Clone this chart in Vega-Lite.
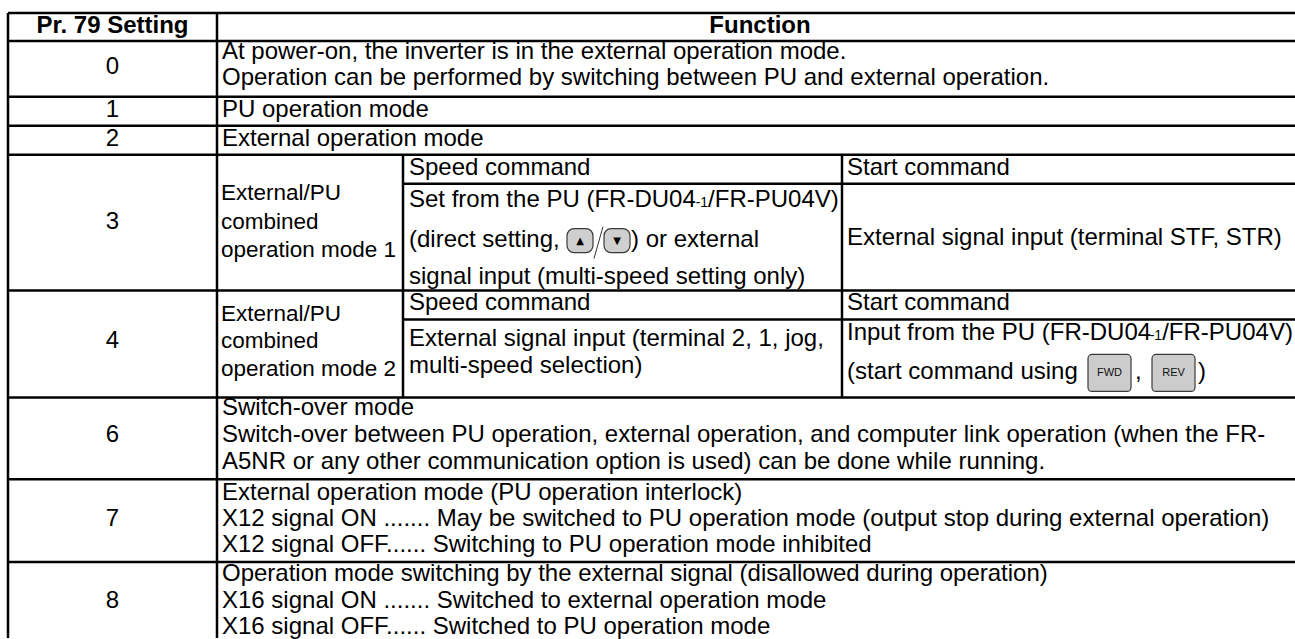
{
  "$schema": "https://vega.github.io/schema/vega-lite/v6.json",
  "width": 1295,
  "height": 639,
  "autosize": {"type": "fit", "contains": "padding"},
  "padding": 0,
  "background": "#ffffff",
  "config": {"view": {"stroke": null}},
  "datasets": {
    "hlines": [
      {"line": 0, "from": 8, "to": 1295},
      {"line": 1.018, "from": 8, "to": 1295},
      {"line": 3.055, "from": 8, "to": 1295},
      {"line": 4.109, "from": 8, "to": 1295},
      {"line": 5.164, "from": 8, "to": 1295},
      {"line": 6.218, "from": 403, "to": 1295},
      {"line": 10.109, "from": 8, "to": 1295},
      {"line": 11.164, "from": 403, "to": 1295},
      {"line": 14.0, "from": 8, "to": 1295},
      {"line": 16.982, "from": 8, "to": 1295},
      {"line": 20.0, "from": 8, "to": 1295}
    ],
    "vlines": [
      {"at": 8, "top": 0, "bottom": 22.76},
      {"at": 217, "top": 0, "bottom": 22.76},
      {"at": 403, "top": 5.164, "bottom": 14.0},
      {"at": 842, "top": 5.164, "bottom": 14.0}
    ],
    "slash": [
      {"fromAt": 594, "toAt": 603, "fromLine": 8.945, "toLine": 7.782}
    ],
    "buttons": [
      {"label": "▲", "kind": "arrow", "left": 567, "right": 593, "top": 7.855, "bottom": 8.727},
      {"label": "▼", "kind": "arrow", "left": 604, "right": 630, "top": 7.855, "bottom": 8.727},
      {"label": "FWD", "kind": "key", "left": 1088, "right": 1131, "top": 12.436, "bottom": 13.782},
      {"label": "REV", "kind": "key", "left": 1152, "right": 1195, "top": 12.436, "bottom": 13.782}
    ],
    "texts": [
      {"text": "Pr. 79 Setting", "at": 112.5, "line": 0.47, "style": "head"},
      {"text": "Function", "at": 760, "line": 0.47, "style": "head"},
      {"text": "0", "at": 112.5, "line": 1.96, "style": "num"},
      {"text": "1", "at": 112.5, "line": 3.53, "style": "num"},
      {"text": "2", "at": 112.5, "line": 4.58, "style": "num"},
      {"text": "3", "at": 112.5, "line": 7.6, "style": "num"},
      {"text": "4", "at": 112.5, "line": 11.96, "style": "num"},
      {"text": "6", "at": 112.5, "line": 15.38, "style": "num"},
      {"text": "7", "at": 112.5, "line": 18.44, "style": "num"},
      {"text": "8", "at": 112.5, "line": 21.42, "style": "num"},
      {"text": "At power-on, the inverter is in the external operation mode.", "at": 222, "line": 1.42, "style": "body"},
      {"text": "Operation can be performed by switching between PU and external operation.", "at": 222, "line": 2.36, "style": "body"},
      {"text": "PU operation mode", "at": 222, "line": 3.53, "style": "body"},
      {"text": "External operation mode", "at": 222, "line": 4.58, "style": "body"},
      {"text": "External/PU", "at": 221, "line": 6.55, "style": "mode"},
      {"text": "combined", "at": 221, "line": 7.6, "style": "mode"},
      {"text": "operation mode 1", "at": 221, "line": 8.62, "style": "mode"},
      {"text": "Speed command", "at": 409, "line": 5.64, "style": "body"},
      {"text": "Set from the PU (FR-DU04", "at": 409, "line": 6.8, "style": "body"},
      {"text": "-1", "at": 695.7, "line": 6.8, "style": "sub"},
      {"text": "/FR-PU04V)", "at": 708.1, "line": 6.8, "style": "body"},
      {"text": "(direct setting,", "at": 409, "line": 8.255, "style": "body"},
      {"text": ") or external", "at": 631, "line": 8.255, "style": "body"},
      {"text": "signal input (multi-speed setting only)", "at": 409, "line": 9.6, "style": "body"},
      {"text": "Start command", "at": 847, "line": 5.64, "style": "body"},
      {"text": "External signal input (terminal STF, STR)", "at": 847, "line": 8.18, "style": "body"},
      {"text": "External/PU", "at": 221, "line": 10.98, "style": "mode"},
      {"text": "combined", "at": 221, "line": 11.96, "style": "mode"},
      {"text": "operation mode 2", "at": 221, "line": 12.95, "style": "mode"},
      {"text": "Speed command", "at": 409, "line": 10.55, "style": "body"},
      {"text": "External signal input (terminal 2, 1, jog,", "at": 409, "line": 11.89, "style": "body"},
      {"text": "multi-speed selection)", "at": 409, "line": 12.87, "style": "body"},
      {"text": "Start command", "at": 847, "line": 10.55, "style": "body"},
      {"text": "Input from the PU (FR-DU04", "at": 847, "line": 11.64, "style": "body"},
      {"text": "-1", "at": 1149.7, "line": 11.64, "style": "sub"},
      {"text": "/FR-PU04V)", "at": 1162.2, "line": 11.64, "style": "body"},
      {"text": "(start command using", "at": 847, "line": 13.09, "style": "body"},
      {"text": ",", "at": 1135, "line": 13.09, "style": "body"},
      {"text": ")", "at": 1198, "line": 13.09, "style": "body"},
      {"text": "Switch-over mode", "at": 222, "line": 14.4, "style": "body"},
      {"text": "Switch-over between PU operation, external operation, and computer link operation (when the FR-", "at": 222, "line": 15.38, "style": "body"},
      {"text": "A5NR or any other communication option is used) can be done while running.", "at": 222, "line": 16.36, "style": "body"},
      {"text": "External operation mode (PU operation interlock)", "at": 222, "line": 17.49, "style": "body"},
      {"text": "X12 signal ON ....... May be switched to PU operation mode (output stop during external operation)", "at": 222, "line": 18.44, "style": "body"},
      {"text": "X12 signal OFF...... Switching to PU operation mode inhibited", "at": 222, "line": 19.38, "style": "body"},
      {"text": "Operation mode switching by the external signal (disallowed during operation)", "at": 222, "line": 20.44, "style": "body"},
      {"text": "X16 signal ON ....... Switched to external operation mode", "at": 222, "line": 21.42, "style": "body"},
      {"text": "X16 signal OFF...... Switched to PU operation mode", "at": 222, "line": 22.36, "style": "body"}
    ]
  },
  "layer": [
    {
      "data": {"name": "hlines"},
      "mark": {"type": "rule", "color": "#000000", "strokeWidth": 2.5, "clip": true},
      "encoding": {
        "x": {"field": "from", "type": "quantitative", "scale": {"domain": [0, 1295], "nice": false, "zero": false}, "axis": null},
        "x2": {"field": "to"},
        "y": {"field": "line", "type": "quantitative", "scale": {"domain": [-0.47273, 22.76364], "reverse": true, "nice": false, "zero": false}, "axis": null}
      }
    },
    {
      "data": {"name": "vlines"},
      "mark": {"type": "rule", "color": "#000000", "strokeWidth": 2.5, "clip": true},
      "encoding": {
        "x": {"field": "at", "type": "quantitative", "scale": {"domain": [0, 1295], "nice": false, "zero": false}, "axis": null},
        "y": {"field": "top", "type": "quantitative", "scale": {"domain": [-0.47273, 22.76364], "reverse": true, "nice": false, "zero": false}, "axis": null},
        "y2": {"field": "bottom"}
      }
    },
    {
      "data": {"name": "buttons"},
      "transform": [{"filter": "datum.kind === 'arrow'"}],
      "mark": {"type": "rect", "fill": "#cfcfcf", "stroke": "#3a3a3a", "strokeWidth": 1.2, "cornerRadius": 7},
      "encoding": {
        "x": {"field": "left", "type": "quantitative", "scale": {"domain": [0, 1295], "nice": false, "zero": false}, "axis": null},
        "x2": {"field": "right"},
        "y": {"field": "top", "type": "quantitative", "scale": {"domain": [-0.47273, 22.76364], "reverse": true, "nice": false, "zero": false}, "axis": null},
        "y2": {"field": "bottom"}
      }
    },
    {
      "data": {"name": "buttons"},
      "transform": [{"filter": "datum.kind === 'key'"}],
      "mark": {"type": "rect", "fill": "#cccccc", "stroke": "#3a3a3a", "strokeWidth": 1.2, "cornerRadius": 4},
      "encoding": {
        "x": {"field": "left", "type": "quantitative", "scale": {"domain": [0, 1295], "nice": false, "zero": false}, "axis": null},
        "x2": {"field": "right"},
        "y": {"field": "top", "type": "quantitative", "scale": {"domain": [-0.47273, 22.76364], "reverse": true, "nice": false, "zero": false}, "axis": null},
        "y2": {"field": "bottom"}
      }
    },
    {
      "data": {"name": "buttons"},
      "transform": [{"filter": "datum.kind === 'arrow'"}],
      "mark": {"type": "text", "font": "DejaVu Sans", "fontSize": 10, "color": "#000000", "align": "center", "baseline": "middle", "dx": 13, "dy": 12},
      "encoding": {
        "x": {"field": "left", "type": "quantitative", "scale": {"domain": [0, 1295], "nice": false, "zero": false}, "axis": null},
        "y": {"field": "top", "type": "quantitative", "scale": {"domain": [-0.47273, 22.76364], "reverse": true, "nice": false, "zero": false}, "axis": null},
        "text": {"field": "label"}
      }
    },
    {
      "data": {"name": "buttons"},
      "transform": [{"filter": "datum.kind === 'key'"}],
      "mark": {"type": "text", "font": "Liberation Sans", "fontSize": 11, "color": "#111111", "align": "center", "baseline": "middle", "dx": 21.5, "dy": 18.5},
      "encoding": {
        "x": {"field": "left", "type": "quantitative", "scale": {"domain": [0, 1295], "nice": false, "zero": false}, "axis": null},
        "y": {"field": "top", "type": "quantitative", "scale": {"domain": [-0.47273, 22.76364], "reverse": true, "nice": false, "zero": false}, "axis": null},
        "text": {"field": "label"}
      }
    },
    {
      "data": {"name": "slash"},
      "mark": {"type": "rule", "color": "#333333", "strokeWidth": 1},
      "encoding": {
        "x": {"field": "fromAt", "type": "quantitative", "scale": {"domain": [0, 1295], "nice": false, "zero": false}, "axis": null},
        "x2": {"field": "toAt"},
        "y": {"field": "fromLine", "type": "quantitative", "scale": {"domain": [-0.47273, 22.76364], "reverse": true, "nice": false, "zero": false}, "axis": null},
        "y2": {"field": "toLine"}
      }
    },
    {
      "data": {"name": "texts"},
      "transform": [{"filter": "datum.style === 'head'"}],
      "mark": {"type": "text", "font": "Liberation Sans", "fontSize": 24, "fontWeight": "bold", "color": "#000000", "align": "center", "baseline": "middle"},
      "encoding": {
        "x": {"field": "at", "type": "quantitative", "scale": {"domain": [0, 1295], "nice": false, "zero": false}, "axis": null},
        "y": {"field": "line", "type": "quantitative", "scale": {"domain": [-0.47273, 22.76364], "reverse": true, "nice": false, "zero": false}, "axis": null},
        "text": {"field": "text"}
      }
    },
    {
      "data": {"name": "texts"},
      "transform": [{"filter": "datum.style === 'num'"}],
      "mark": {"type": "text", "font": "Liberation Sans", "fontSize": 24, "color": "#000000", "align": "center", "baseline": "middle"},
      "encoding": {
        "x": {"field": "at", "type": "quantitative", "scale": {"domain": [0, 1295], "nice": false, "zero": false}, "axis": null},
        "y": {"field": "line", "type": "quantitative", "scale": {"domain": [-0.47273, 22.76364], "reverse": true, "nice": false, "zero": false}, "axis": null},
        "text": {"field": "text"}
      }
    },
    {
      "data": {"name": "texts"},
      "transform": [{"filter": "datum.style === 'body'"}],
      "mark": {"type": "text", "font": "Liberation Sans", "fontSize": 24, "color": "#000000", "align": "left", "baseline": "middle"},
      "encoding": {
        "x": {"field": "at", "type": "quantitative", "scale": {"domain": [0, 1295], "nice": false, "zero": false}, "axis": null},
        "y": {"field": "line", "type": "quantitative", "scale": {"domain": [-0.47273, 22.76364], "reverse": true, "nice": false, "zero": false}, "axis": null},
        "text": {"field": "text"}
      }
    },
    {
      "data": {"name": "texts"},
      "transform": [{"filter": "datum.style === 'mode'"}],
      "mark": {"type": "text", "font": "Liberation Sans", "fontSize": 22.5, "color": "#000000", "align": "left", "baseline": "middle"},
      "encoding": {
        "x": {"field": "at", "type": "quantitative", "scale": {"domain": [0, 1295], "nice": false, "zero": false}, "axis": null},
        "y": {"field": "line", "type": "quantitative", "scale": {"domain": [-0.47273, 22.76364], "reverse": true, "nice": false, "zero": false}, "axis": null},
        "text": {"field": "text"}
      }
    },
    {
      "data": {"name": "texts"},
      "transform": [{"filter": "datum.style === 'sub'"}],
      "mark": {"type": "text", "font": "Liberation Sans", "fontSize": 14, "color": "#000000", "align": "left", "baseline": "middle", "dy": 3},
      "encoding": {
        "x": {"field": "at", "type": "quantitative", "scale": {"domain": [0, 1295], "nice": false, "zero": false}, "axis": null},
        "y": {"field": "line", "type": "quantitative", "scale": {"domain": [-0.47273, 22.76364], "reverse": true, "nice": false, "zero": false}, "axis": null},
        "text": {"field": "text"}
      }
    }
  ]
}
